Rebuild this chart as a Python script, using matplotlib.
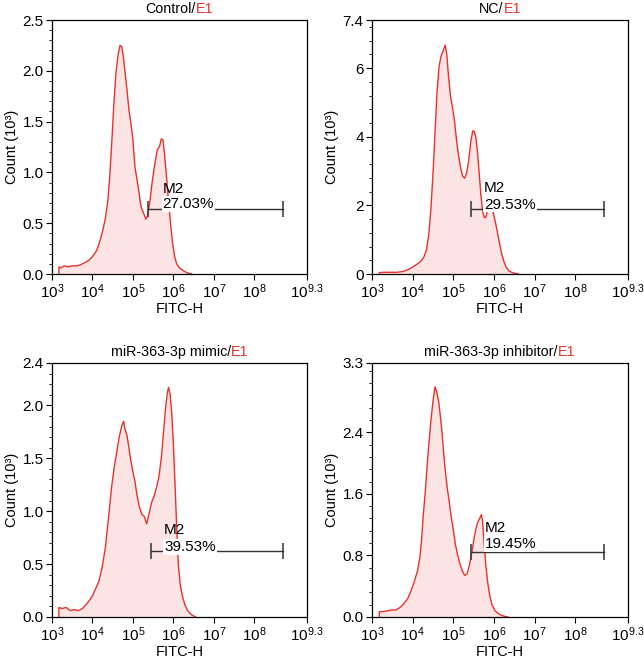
import numpy as np
import matplotlib
matplotlib.use("Agg")
import matplotlib.pyplot as plt
from matplotlib.ticker import FixedLocator, LogLocator, MultipleLocator, NullFormatter
from matplotlib.offsetbox import TextArea, HPacker, AnchoredOffsetbox

plt.rcParams['font.family'] = ['Liberation Sans', 'DejaVu Sans']
plt.rcParams['mathtext.fontset'] = 'custom'
plt.rcParams['mathtext.rm'] = 'Liberation Sans'
plt.rcParams['mathtext.it'] = 'Liberation Sans:italic'

# Titles (black part + red gate name)
titles = ["Control/", "NC/", "miR-363-3p mimic/", "miR-363-3p inhibitor/"]
gate = "E1"
percents = ["27.03%", "29.53%", "39.53%", "19.45%"]

# histogram curves: x in log10(FITC-H), y in counts (10^3)
ctrl_x = [3.17, 3.17, 3.22, 3.30, 3.40, 3.50, 3.60, 3.70, 3.80, 3.90, 4.00, 4.10, 4.18, 4.25,
          4.32, 4.38, 4.43, 4.48, 4.53, 4.58, 4.63, 4.68, 4.72, 4.76, 4.80, 4.85, 4.90, 4.95,
          5.00, 5.05, 5.10, 5.15, 5.20, 5.26, 5.32, 5.36, 5.42, 5.48, 5.54, 5.60, 5.66, 5.70,
          5.74, 5.78, 5.82, 5.86, 5.90, 5.94, 5.98, 6.03, 6.08, 6.15, 6.25, 6.35, 6.45]
ctrl_y = [0.0, 0.07, 0.06, 0.08, 0.07, 0.08, 0.08, 0.09, 0.11, 0.13, 0.17, 0.23, 0.32, 0.42,
          0.55, 0.72, 0.98, 1.32, 1.68, 1.98, 2.15, 2.25, 2.24, 2.15, 2.00, 1.82, 1.62, 1.48,
          1.32, 1.05, 0.93, 0.80, 0.66, 0.60, 0.54, 0.57, 0.72, 0.92, 1.08, 1.22, 1.26, 1.33,
          1.32, 1.18, 1.00, 0.80, 0.62, 0.45, 0.30, 0.17, 0.10, 0.06, 0.03, 0.01, 0.0]

nc_x = [3.18, 3.18, 3.30, 3.45, 3.60, 3.75, 3.90, 4.00, 4.10, 4.20, 4.28, 4.34, 4.40, 4.45,
        4.50, 4.55, 4.60, 4.65, 4.70, 4.75, 4.80, 4.84, 4.88, 4.93, 4.98, 5.03, 5.08, 5.13,
        5.18, 5.23, 5.28, 5.33, 5.38, 5.43, 5.48, 5.52, 5.56, 5.60, 5.64, 5.68, 5.72, 5.76,
        5.80, 5.84, 5.88, 5.93, 5.98, 6.03, 6.08, 6.13, 6.18, 6.24, 6.30, 6.38, 6.48, 6.60]
nc_y = [0.0, 0.04, 0.05, 0.05, 0.05, 0.07, 0.13, 0.20, 0.28, 0.37, 0.50, 0.70, 1.18, 1.90,
        2.90, 4.10, 5.30, 6.04, 6.35, 6.50, 6.67, 6.40, 5.80, 5.20, 4.85, 4.45, 3.90, 3.45,
        3.10, 2.85, 2.79, 2.95, 3.30, 3.85, 4.17, 4.15, 3.95, 3.50, 2.90, 2.30, 1.86, 1.65,
        1.65, 1.85, 1.92, 1.94, 1.80, 1.55, 1.25, 0.95, 0.65, 0.38, 0.20, 0.08, 0.03, 0.0]

mimic_x = [3.17, 3.17, 3.25, 3.35, 3.45, 3.55, 3.65, 3.75, 3.85, 3.93, 4.00, 4.08, 4.16, 4.24,
           4.32, 4.40, 4.47, 4.54, 4.60, 4.66, 4.72, 4.77, 4.80, 4.85, 4.90, 4.95, 5.00, 5.05,
           5.10, 5.16, 5.22, 5.28, 5.34, 5.40, 5.46, 5.52, 5.58, 5.64, 5.70, 5.75, 5.80, 5.85,
           5.88, 5.92, 5.96, 6.00, 6.04, 6.08, 6.12, 6.17, 6.22, 6.28, 6.35, 6.45, 6.55]
mimic_y = [0.0, 0.09, 0.08, 0.09, 0.06, 0.07, 0.06, 0.08, 0.12, 0.16, 0.20, 0.27, 0.34, 0.47,
           0.66, 0.95, 1.22, 1.42, 1.56, 1.70, 1.80, 1.85, 1.78, 1.72, 1.60, 1.47, 1.37, 1.28,
           1.15, 1.04, 0.97, 0.95, 0.88, 0.98, 1.08, 1.14, 1.22, 1.32, 1.50, 1.72, 1.95, 2.12,
           2.17, 2.10, 1.92, 1.62, 1.25, 0.85, 0.50, 0.30, 0.20, 0.12, 0.06, 0.02, 0.0]

inhib_x = [3.18, 3.18, 3.28, 3.38, 3.48, 3.58, 3.68, 3.78, 3.88, 3.96, 4.04, 4.12, 4.18, 4.22,
           4.26, 4.31, 4.35, 4.40, 4.45, 4.50, 4.55, 4.59, 4.64, 4.68, 4.72, 4.76, 4.80, 4.85,
           4.90, 4.95, 5.00, 5.05, 5.10, 5.16, 5.22, 5.28, 5.34, 5.40, 5.46, 5.52, 5.58, 5.64,
           5.69, 5.72, 5.76, 5.80, 5.85, 5.90, 5.96, 6.03, 6.12, 6.25, 6.35]
inhib_y = [0.0, 0.07, 0.07, 0.08, 0.09, 0.09, 0.12, 0.17, 0.24, 0.34, 0.46, 0.60, 0.78, 1.00,
           1.31, 1.62, 1.92, 2.25, 2.55, 2.80, 2.99, 2.93, 2.80, 2.62, 2.42, 2.15, 1.92, 1.68,
           1.50, 1.30, 1.14, 0.95, 0.82, 0.70, 0.60, 0.54, 0.56, 0.68, 0.85, 1.05, 1.20, 1.27,
           1.33, 1.25, 0.95, 0.68, 0.44, 0.27, 0.15, 0.08, 0.04, 0.01, 0.0]

curves_x = [ctrl_x, nc_x, mimic_x, inhib_x]
curves_y = [ctrl_y, nc_y, mimic_y, inhib_y]

# y axes: top, major ticks, minor step
y_tops = [2.5, 7.4, 2.4, 3.3]
y_majors = [[0, 0.5, 1.0, 1.5, 2.0, 2.5], [0, 2, 4, 6, 7.4],
            [0, 0.5, 1.0, 1.5, 2.0, 2.4], [0, 0.8, 1.6, 2.4, 3.3]]
y_major_labels = [["0.0", "0.5", "1.0", "1.5", "2.0", "2.5"], ["0", "2", "4", "6", "7.4"],
                  ["0.0", "0.5", "1.0", "1.5", "2.0", "2.4"], ["0.0", "0.8", "1.6", "2.4", "3.3"]]
y_minor_step = [0.1, 0.4, 0.1, 0.16]

# M2 gate: log10 start/end, y level, text positions
gate_start = [5.38, 5.43, 5.45, 5.43]
gate_end = [8.71, 8.71, 8.71, 8.70]
gate_y = [0.64, 1.88, 0.62, 0.84]
label_x = [5.73, 5.76, 5.77, 5.77]
m2_y = [0.84, 2.50, 0.82, 1.15]
pct_y = [0.69, 2.02, 0.66, 0.95]

x_exps = [3, 4, 5, 6, 7, 8, 9.3]
x_labels = [r'$\mathregular{10^{3}}$', r'$\mathregular{10^{4}}$', r'$\mathregular{10^{5}}$',
            r'$\mathregular{10^{6}}$', r'$\mathregular{10^{7}}$', r'$\mathregular{10^{8}}$',
            r'$\mathregular{10^{9.3}}$']

red = '#e8322b'
fill = '#fbe4e3'

fig = plt.figure(figsize=(6.44, 6.60), dpi=100)
positions = [[52/644, 1-274/660, 255/644, 254/660],
             [372/644, 1-274/660, 256/644, 254/660],
             [52/644, 1-617/660, 255/644, 254/660],
             [372/644, 1-617/660, 256/644, 254/660]]

for i in range(4):
    ax = fig.add_axes(positions[i])
    xs = 10 ** np.array(curves_x[i])
    ys = np.array(curves_y[i])
    ax.fill_between(xs, 0, ys, color=fill, lw=0)
    ax.plot(xs, ys, color=red, lw=1.0)

    ax.set_xscale('log')
    ax.set_xlim(1e3, 10 ** 9.3)
    ax.set_ylim(0, y_tops[i])
    ax.xaxis.set_major_locator(FixedLocator([10 ** e for e in x_exps]))
    ax.set_xticklabels(x_labels)
    ax.xaxis.set_minor_locator(LogLocator(base=10, subs=np.arange(2, 10)))
    ax.xaxis.set_minor_formatter(NullFormatter())
    ax.set_yticks(y_majors[i])
    ax.set_yticklabels(y_major_labels[i])
    ax.yaxis.set_minor_locator(MultipleLocator(y_minor_step[i]))
    ax.tick_params(which='major', direction='out', length=4.5, width=0.8, labelsize=11, pad=1.5)
    ax.tick_params(which='minor', direction='out', length=2.2, width=0.6)
    for s in ax.spines.values():
        s.set_linewidth(0.9)

    ax.set_xlabel('FITC-H', fontsize=10.5, labelpad=0.5)
    ax.set_ylabel('Count (10³)', fontsize=10.5, labelpad=2.5)

    # gate bar
    gx = [10 ** gate_start[i], 10 ** gate_end[i]]
    ax.plot(gx, [gate_y[i], gate_y[i]], color='#333333', lw=1.0, marker='|',
            markersize=11, markeredgewidth=1.1)
    ax.text(10 ** label_x[i], m2_y[i], 'M2', fontsize=11, va='center', ha='left')
    ax.text(10 ** label_x[i], pct_y[i], percents[i], fontsize=11, va='center', ha='left',
            bbox=dict(facecolor='white', edgecolor='none', pad=0.5))

    # two-colour title
    t1 = TextArea(titles[i], textprops=dict(fontsize=10.3, color='black'))
    t2 = TextArea(gate, textprops=dict(fontsize=10.3, color=red))
    box = HPacker(children=[t1, t2], align='baseline', pad=0, sep=0)
    anch = AnchoredOffsetbox(loc='lower center', child=box, frameon=False,
                             bbox_to_anchor=(0.5, 1.0), bbox_transform=ax.transAxes,
                             borderpad=0.3, pad=0)
    ax.add_artist(anch)

fig.savefig('out.png', dpi=100)
